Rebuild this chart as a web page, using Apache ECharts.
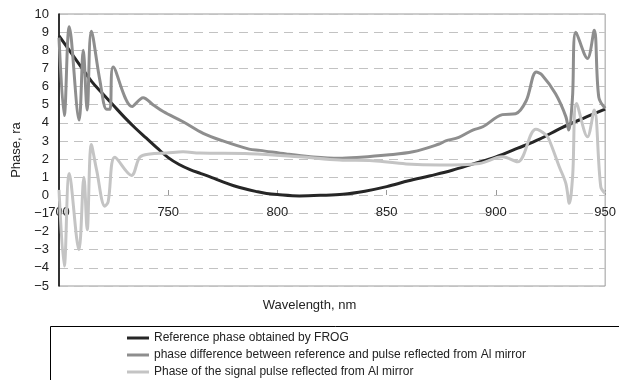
<!DOCTYPE html>
<html>
<head>
<meta charset="utf-8">
<title>Phase</title>
<script src="https://cdn.jsdelivr.net/npm/echarts@6/dist/echarts.min.js"></script>
<style>
	html, body { margin: 0; padding: 0; background: #fff; }
	#chart { width: 619px; height: 380px; }
</style>
</head>
<body>
<div id="chart"></div>
<script>
// values (wavelength nm / phase rad)
var refWl = [700, 705, 710, 715, 720, 725, 730, 735, 740, 745, 750, 755, 760, 765, 770, 775, 780, 785, 790, 795, 800, 810, 820, 830, 840, 850, 860, 870, 880, 890, 900, 910, 920, 930, 940, 950];
var refPhase = [8.8, 7.95, 7.1, 6.27, 5.6, 4.95, 4.3, 3.7, 3.15, 2.6, 2.08, 1.7, 1.42, 1.2, 0.98, 0.74, 0.53, 0.36, 0.22, 0.1, 0.04, -0.03, 0.0, 0.06, 0.23, 0.48, 0.8, 1.08, 1.38, 1.75, 2.12, 2.6, 3.1, 3.72, 4.25, 4.75];

var diffWl = [700, 702.4, 704.7, 709.2, 711.1, 712.9, 714.8, 718.7, 721.8, 723.3, 724.8, 733.5, 738.5, 743, 747.7, 756.8, 766, 775, 787, 792, 804, 815, 828, 838, 850, 862, 874, 877, 883, 889.4, 894, 903, 909, 913.8, 918.5, 921, 927.3, 932, 933.3, 935, 936.6, 941.9, 945, 947.1, 950];
var diffPhase = [8.7, 4.4, 9.3, 4.15, 8.0, 4.7, 9.05, 6.35, 4.75, 4.75, 7.08, 4.9, 5.38, 5.0, 4.62, 4.06, 3.42, 3.0, 2.55, 2.48, 2.28, 2.13, 2.04, 2.1, 2.22, 2.4, 2.83, 3.0, 3.2, 3.6, 3.78, 4.45, 4.5, 5.2, 6.8, 6.65, 5.6, 4.34, 3.6, 5.3, 9.0, 7.55, 9.1, 5.4, 4.8];

var sigWl = [700, 702.4, 704.7, 709.1, 711.4, 712.9, 714.8, 717.2, 721, 722.5, 725.6, 733.2, 737, 741.6, 749.2, 756.8, 764.4, 787.3, 810, 828.4, 843.6, 858.9, 874.1, 892.4, 903, 909.9, 918.3, 922.9, 924.4, 929, 932, 933.6, 935.1, 936.9, 941.9, 945, 948, 950];
var sigPhase = [0.3, -3.9, 1.2, -3.0, 1.0, -1.9, 2.8, 1.4, -0.6, -0.35, 2.1, 1.1, 2.1, 2.28, 2.33, 2.4, 2.33, 2.3, 2.13, 1.95, 1.91, 1.73, 1.67, 1.76, 2.13, 1.85, 3.64, 3.33, 3.05, 1.58, 0.66, -0.44, 1.03, 5.07, 3.23, 4.7, 0.47, 0.11];

var seriesNames = [
	'Reference phase obtained by FROG',
	'phase difference between reference and pulse reflected from Al mirror',
	'Phase of the signal pulse reflected from Al mirror'
];
var seriesColors = ['#262626', '#8e8e8e', '#c4c4c4'];

function zip(xs, ys) {
	var res = [];
	for (var i = 0; i < xs.length; i++)
		res.push([xs[i], ys[i]]);
	return res;
}

function minusSign(v) {
	return v < 0 ? '\u2212' + (-v) : '' + v;
}

var font = 'Arial, "Liberation Sans", sans-serif';
var chart = echarts.init(document.getElementById('chart'));

var allData = [zip(refWl, refPhase), zip(diffWl, diffPhase), zip(sigWl, sigPhase)];

chart.setOption({
	animation: false,
	textStyle: { fontFamily: font },
	grid: {
		left: 59, right: 13, top: 14, bottom: 94,
		show: true, borderColor: '#9a9a9a', borderWidth: 1
	},
	title: {
		text: 'Wavelength, nm',
		left: 'center', top: 294,
		textStyle: { fontSize: 13, fontWeight: 'normal', color: '#222', fontFamily: font }
	},
	legend: {
		orient: 'vertical',
		left: 127, top: 332, height: 60,
		padding: 0,
		itemWidth: 22, itemHeight: 3, itemGap: 5,
		icon: 'rect',
		selectedMode: false,
		textStyle: { fontSize: 12, color: '#222', fontFamily: font },
		data: seriesNames
	},
	xAxis: {
		type: 'value',
		min: 700, max: 950, interval: 50,
		// axis sits on the zero line, 91px above the plot bottom
		offset: -91,
		axisLine: { show: false, onZero: false },
		axisTick: { show: true, inside: true, length: 5, lineStyle: { color: '#999' } },
		axisLabel: { fontSize: 13, color: '#222', margin: 11, fontFamily: font },
		splitLine: { show: false }
	},
	yAxis: {
		type: 'value',
		min: -5, max: 10, interval: 1,
		name: 'Phase, ra',
		nameLocation: 'middle',
		nameGap: 33,
		nameTextStyle: { fontSize: 13, color: '#222', fontFamily: font },
		axisLine: { show: true, lineStyle: { color: '#000', width: 1.5 } },
		axisTick: { show: false },
		axisLabel: { fontSize: 13, color: '#222', margin: 10, formatter: minusSign, fontFamily: font },
		splitLine: { show: true, lineStyle: { color: '#c2c2c2', type: [9, 6], width: 1 } }
	},
	graphic: [{
		type: 'rect',
		shape: { x: 50.5, y: 326.5, width: 700, height: 200 },
		style: { fill: null, stroke: '#000', lineWidth: 1 },
		silent: true
	}],
	series: allData.map(function (d, idx) {
		return {
			name: seriesNames[idx],
			type: 'line',
			data: d,
			smooth: 0.35,
			showSymbol: false,
			color: seriesColors[idx],
			lineStyle: { width: 3, color: seriesColors[idx] }
		};
	})
});
</script>
</body>
</html>
